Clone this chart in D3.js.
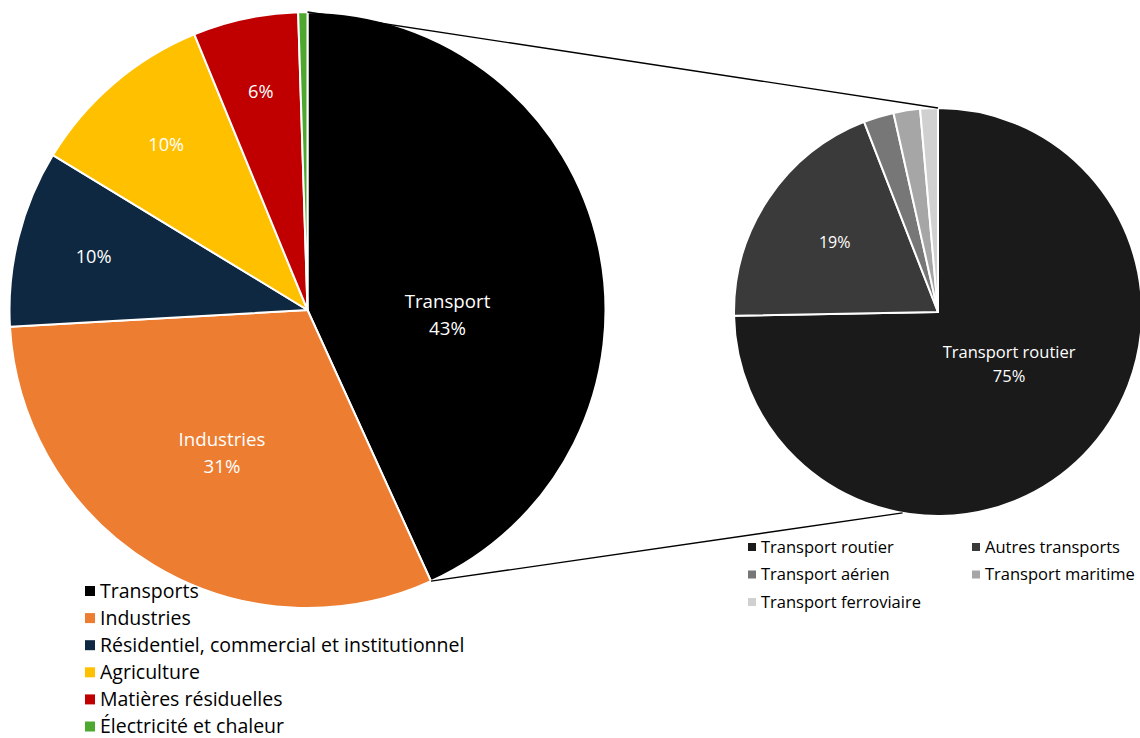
<!DOCTYPE html>
<html><head><meta charset="utf-8">
<script src="https://cdn.jsdelivr.net/npm/d3@7"></script>
<style>body{margin:0;background:#fff}svg{display:block}text{font-family:"Open Sans",sans-serif}</style>
</head><body>
<svg id="c" width="1140" height="738"></svg>
<script>
const mainCategories = ["Transports","Industries","Résidentiel, commercial et institutionnel","Agriculture","Matières résiduelles","Électricité et chaleur"];
const mainSliceNames = ["Transport","Industries","","","",""];
const mainValues = [43.2, 30.9, 9.6, 10.1, 5.7, 0.5];
const mainColors = ["#000000","#ED7D31","#0E2841","#FFC000","#C00000","#4EA72E"];

const subCategories = ["Transport routier","Autres transports","Transport aérien","Transport maritime","Transport ferroviaire"];
const subSliceNames = ["Transport routier","","","",""];
const subValues = [74.7, 19.4, 2.4, 2.1, 1.4];
const subColors = ["#1A1A1A","#3A3A3A","#777777","#A6A6A6","#D0D0D0"];

const svg = d3.select("#c");
const pie = d3.pie().sort(null).value(d => d.v);

function drawPie(cx, cy, r, values, colors, names, labelCfg, fsName, fsPct) {
  const g = svg.append("g").attr("transform", `translate(${cx},${cy})`);
  const data = values.map((v,i)=>({v, c:colors[i], n:names[i]}));
  const arcs = pie(data);
  const arc = d3.arc().innerRadius(0).outerRadius(r);
  g.selectAll("path").data(arcs).join("path")
    .attr("d", arc).attr("fill", d=>d.data.c)
    .attr("stroke","#fff").attr("stroke-width",2).attr("stroke-linejoin","round");
  arcs.forEach((d,i)=>{
    const cfg = labelCfg[i];
    if (!cfg) return;
    const a = (d.startAngle + d.endAngle)/2 + (cfg.da||0);
    const x = Math.sin(a)*r*cfg.rf, y = -Math.cos(a)*r*cfg.rf;
    const pct = Math.round(d.data.v) + "%";
    const t = g.append("text").attr("x",x).attr("y",y).attr("text-anchor","middle")
      .attr("fill","#fff").attr("font-size",fsName);
    if (d.data.n) {
      t.append("tspan").attr("x",x).attr("dy","-0.3em").text(d.data.n);
      t.append("tspan").attr("x",x).attr("dy","1.45em").text(pct);
    } else {
      t.attr("font-size",fsPct).attr("dy","0.35em").text(pct);
    }
  });
  return arcs;
}

const M = {cx:307.5, cy:310, r:298};
const S = {cx:938, cy:312, r:204};

const mainArcs = drawPie(M.cx, M.cy, M.r, mainValues, mainColors, mainSliceNames,
  [{rf:0.47, da:0.24},{rf:0.555},{rf:0.74},{rf:0.73},{rf:0.75},null], 18.7, 18.2);
drawPie(S.cx, S.cy, S.r, subValues, subColors, subSliceNames,
  [{rf:0.43, da:-0.15},{rf:0.61},null,null,null], 16.5, 16);

// connector lines
const endA = mainArcs[0].endAngle;
const p1 = [M.cx, M.cy - M.r], q1 = [S.cx, S.cy - S.r];
const p2 = [M.cx + Math.sin(endA)*M.r, M.cy - Math.cos(endA)*M.r];
const b = 190*Math.PI/180;
const q2 = [S.cx + Math.sin(b)*S.r, S.cy - Math.cos(b)*S.r];
svg.append("line").attr("x1",p1[0]).attr("y1",p1[1]).attr("x2",q1[0]).attr("y2",q1[1]).attr("stroke","#000").attr("stroke-width",1.3);
svg.append("line").attr("x1",p2[0]).attr("y1",p2[1]).attr("x2",q2[0]).attr("y2",q2[1]).attr("stroke","#000").attr("stroke-width",1.3);

// main legend
const lg = svg.append("g");
mainCategories.forEach((c,i)=>{
  const y = 591 + i*27.1;
  lg.append("rect").attr("x",85).attr("y",y-5).attr("width",10).attr("height",10).attr("fill",mainColors[i]);
  lg.append("text").attr("x",100).attr("y",y).attr("dy","0.35em").attr("font-size",19.5).attr("fill","#000").text(c);
});
// sub legend
const sg = svg.append("g");
subCategories.forEach((c,i)=>{
  const col = i%2, row = Math.floor(i/2);
  const x = col ? 972 : 748, y = 547 + row*27.5;
  sg.append("rect").attr("x",x).attr("y",y-4).attr("width",8).attr("height",8).attr("fill",subColors[i]);
  sg.append("text").attr("x",x+13).attr("y",y).attr("dy","0.35em").attr("font-size",16.5).attr("fill","#000").text(c);
});
</script>
</body></html>
